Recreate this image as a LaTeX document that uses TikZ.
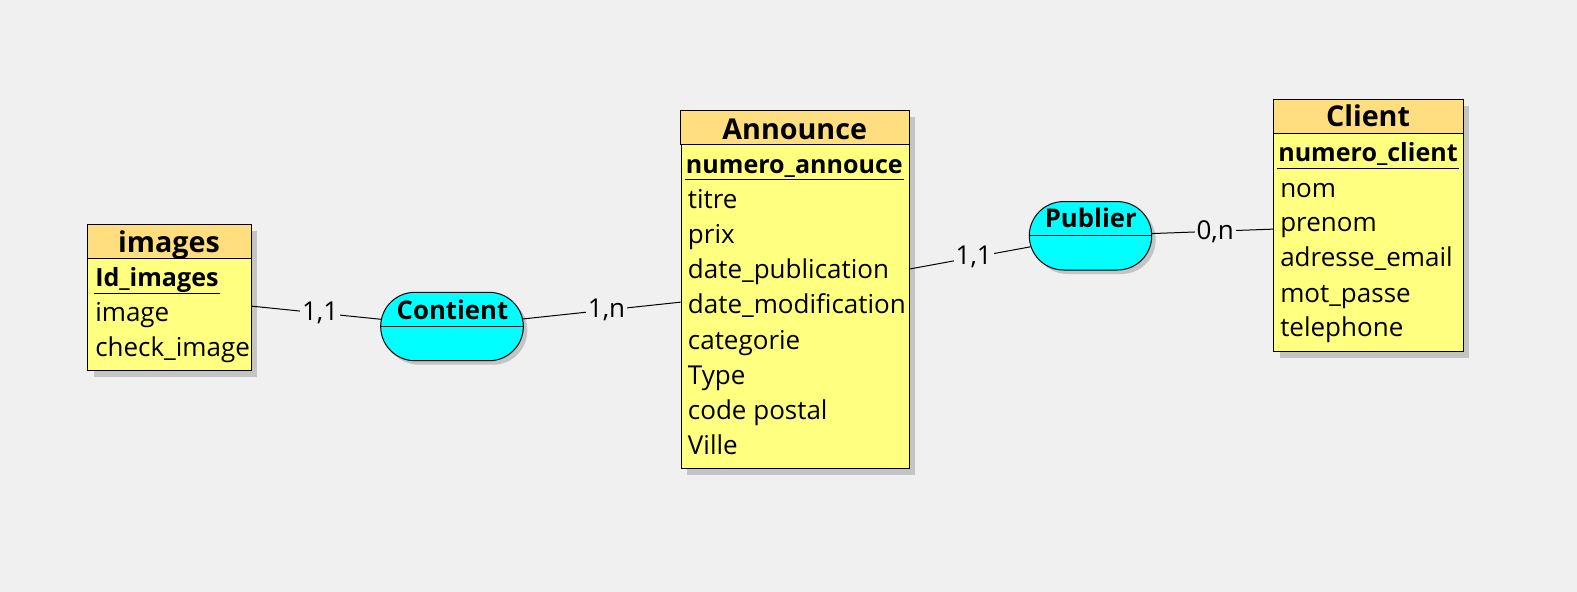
\documentclass[tikz,border=0pt]{standalone}
\usepackage{fontspec}
\setmainfont{Open Sans}
\usepackage{tikz}
\usepackage{xcolor}
\usetikzlibrary{shapes.misc,shadows}

\definecolor{bgcol}{RGB}{240,240,240}
\definecolor{entcol}{RGB}{255,255,128}
\definecolor{headcol}{RGB}{255,222,128}
\definecolor{asscol}{RGB}{0,255,255}
\definecolor{shadcol}{RGB}{196,196,196}

\tikzset{
    entity/.style={draw, fill=entcol, line width=0.75pt, rectangle, inner sep=0pt, anchor=north west,
        general shadow={fill=shadcol, shadow xshift=4.5pt, shadow yshift=-4.5pt}},
    header/.style={draw, fill=headcol, line width=0.75pt},
    assoc/.style={draw, fill=asscol, rounded rectangle, inner sep=0pt, minimum height=51.3pt, line width=0.75pt,
        general shadow={fill=shadcol, shadow xshift=3pt, shadow yshift=-3pt}},
    title/.style={anchor=base, inner sep=0.75pt, font=\fontsize{21.5}{24}\selectfont\bfseries},
    keyattr/.style={anchor=base west, inner sep=0.75pt, font=\fontsize{18.8}{22}\selectfont\bfseries},
    attr/.style={anchor=base west, inner sep=0.75pt, font=\fontsize{19.5}{22}\selectfont},
    asslabel/.style={anchor=base, inner sep=0.75pt, font=\fontsize{19.3}{22}\selectfont\bfseries},
    card/.style={fill=bgcol, inner xsep=1.5pt, inner ysep=0.75pt, font=\fontsize{19.5}{22}\selectfont},
    link/.style={line width=0.75pt}
}

\begin{document}
\begin{tikzpicture}[x=0.75pt,y=0.75pt,yscale=-1,xscale=1]
    % background
    \fill[bgcol] (0,0) rectangle (1577,592);

    %Shape: Entity images
    \node[entity, minimum width=122.5pt, minimum height=109.5pt] (img) at (87.3,224.3) {};
    \draw[header] (img.north west) rectangle ([yshift=25.5pt]img.north east);
    %Shape: Entity Announce
    \node[entity, minimum width=171pt, minimum height=268.2pt] (ann) at (680.7,110.7) {};
    \draw[header] (ann.north west) rectangle ([yshift=25.2pt]ann.north east);
    %Shape: Entity Client
    \node[entity, minimum width=142pt, minimum height=188.8pt] (cli) at (1273.3,99.3) {};
    \draw[header] (cli.north west) rectangle ([yshift=25.5pt]cli.north east);

    %Shape: Association Contient
    \node[assoc, minimum width=107pt] (con) at (452,326.5) {};
    \draw[link] (con.west) -- (con.east);
    %Shape: Association Publier
    \node[assoc, minimum width=91.8pt] (pub) at (1090.5,235.8) {};
    \draw[link] (pub.west) -- (pub.east);

    %Straight Lines
    \draw[link] (img) -- node[card, pos=0.53] (c11a) {1,1} (con);
    %Straight Lines
    \draw[link] (con) -- node[card, pos=0.53] (c1n) {1,n} (ann);
    %Straight Lines
    \draw[link] (ann) -- node[card, pos=0.53] (c11b) {1,1} (pub);
    %Straight Lines
    \draw[link] (pub) -- node[card, pos=0.52] (c0n) {0,n} (cli);

    % Text Node
    \draw (169,252.3) node [title] (imgT) {images};
    % Text Node
    \draw (94,286.8) node [keyattr] (imgK) {Id\_images};
    \draw ([yshift=4.5pt]imgK.base west) -- ([yshift=4.5pt]imgK.base east);
    % Text Node
    \draw (94,321.8) node [attr] (img1) {image};
    % Text Node
    \draw (94,356.8) node [attr] (img2) {check\_image};

    % Text Node
    \draw (794.7,139.3) node [title] (annT) {Announce};
    % Text Node
    \draw (684.7,173.5) node [keyattr] (annK) {numero\_annouce};
    \draw ([yshift=4pt]annK.base west) -- ([yshift=4pt]annK.base east);
    % Text Node
    \draw (686.7,208.6) node [attr] (ann1) {titre};
    % Text Node
    \draw (686.7,243.7) node [attr] (ann2) {prix};
    % Text Node
    \draw (686.7,278.8) node [attr] (ann3) {date\_publication};
    % Text Node
    \draw (686.7,313.9) node [attr] (ann4) {date\_modification};
    % Text Node
    \draw (686.7,349) node [attr] (ann5) {categorie};
    % Text Node
    \draw (686.7,384.1) node [attr] (ann6) {Type};
    % Text Node
    \draw (686.7,419.2) node [attr] (ann7) {code postal};
    % Text Node
    \draw (686.7,454.3) node [attr] (ann8) {Ville};

    % Text Node
    \draw (1368,126.7) node [title] (cliT) {Client};
    % Text Node
    \draw (1277,161.8) node [keyattr] (cliK) {numero\_client};
    \draw ([yshift=4.5pt]cliK.base west) -- ([yshift=4.5pt]cliK.base east);
    % Text Node
    \draw (1279,197.5) node [attr] (cli1) {nom};
    % Text Node
    \draw (1279,231.8) node [attr] (cli2) {prenom};
    % Text Node
    \draw (1279,266.8) node [attr] (cli3) {adresse\_email};
    % Text Node
    \draw (1279,302.5) node [attr] (cli4) {mot\_passe};
    % Text Node
    \draw (1279,336.8) node [attr] (cli5) {telephone};

    % Text Node
    \draw (452.5,319.3) node [asslabel] (conT) {Contient};
    % Text Node
    \draw (1090.8,227.3) node [asslabel] (pubT) {Publier};

\end{tikzpicture}
\end{document}
